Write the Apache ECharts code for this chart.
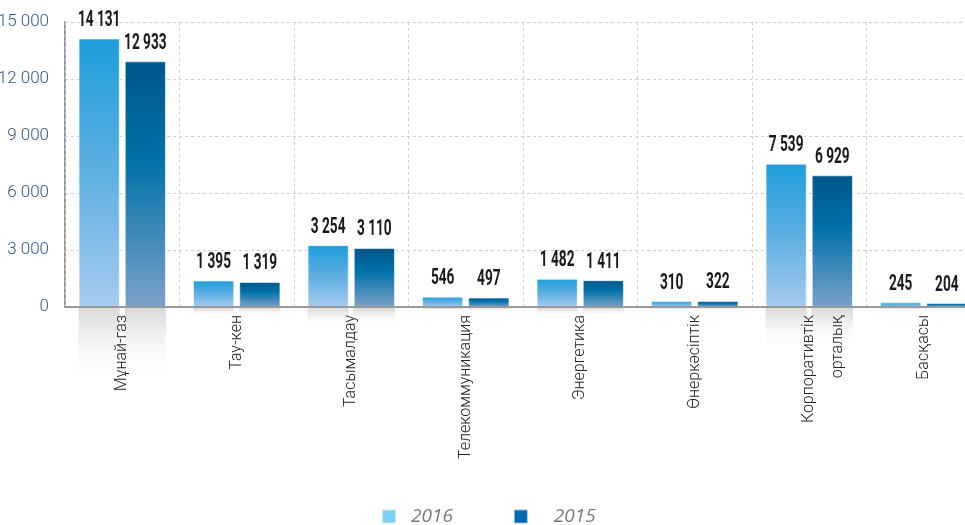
<!DOCTYPE html>
<html>
<head>
<meta charset="utf-8">
<script src="https://cdn.jsdelivr.net/npm/echarts@6/dist/echarts.min.js"></script>
<style>
html,body{margin:0;padding:0;background:#fff;}
#chart{width:965px;height:525px;}
</style>
</head>
<body>
<div id="chart"></div>
<script>
var categories = ['Мұнай-газ', 'Тау-кен', 'Тасымалдау', 'Телекоммуникация', 'Энергетика', 'Өнеркәсіптік', 'Корпоративтік\nорталық', 'Басқасы'];
var values2016 = [14131, 1395, 3254, 546, 1482, 310, 7539, 245];
var values2015 = [12933, 1319, 3110, 497, 1411, 322, 6929, 204];
var yTicks = [0, 3000, 6000, 9000, 12000, 15000];
var seriesNames = ['2016', '2015'];

var font = "Roboto,'Liberation Sans',sans-serif";
var BAR_W = 0.36, BAR_GAP = 0.12;

function fmt(v){
  var s = String(Math.round(v));
  return s.replace(/\B(?=(\d{3})+(?!\d))/g, ' ');
}

var grad2016 = new echarts.graphic.LinearGradient(0,0,0,1,[
  {offset:0,color:'#1c9edb'},{offset:0.5,color:'#5eafe2'},{offset:1,color:'#a5cbee'}]);
var grad2015 = new echarts.graphic.LinearGradient(0,0,0,1,[
  {offset:0,color:'#00578a'},{offset:0.4,color:'#0071a9'},{offset:1,color:'#7ba1c8'}]);
var reflGrad = new echarts.graphic.LinearGradient(0,0,0,1,[
  {offset:0,color:'rgba(210,210,210,0.85)'},{offset:1,color:'rgba(255,255,255,0)'}]);

function labelSeries(name, values, side){
  return {
    name: name + ' labels', type:'custom', xAxisIndex:0, yAxisIndex:0, z:5, silent:true,
    data: values.map(function(v,i){return [i, v];}),
    encode:{x:0, y:1},
    renderItem:function(params, api){
      var pt = api.coord([api.value(0), api.value(1)]);
      var band = api.size([1,0])[0];
      var off = band * BAR_W * (1 + BAR_GAP) / 2 * side;
      return {
        type:'text', x: pt[0] + off, y: pt[1] - 7, scaleX: 0.62,
        style:{text: fmt(api.value(1)), fontFamily:font, fontWeight:'bold', fontSize:22,
               fill:'#1a1a1a', align:'center', verticalAlign:'bottom'}
      };
    }
  };
}

var chart = echarts.init(document.getElementById('chart'));
chart.setOption({
  animation:false,
  grid:[
    {left:65, right:-16, top:22, height:285, outerBoundsMode:'none', containLabel:false},
    {left:65, right:-16, top:308, height:84, outerBoundsMode:'none', containLabel:false}
  ],
  legend:{
    left:381, top:507, padding:0,
    itemWidth:14, itemHeight:14, itemGap:60,
    textStyle:{fontFamily:"'Open Sans',sans-serif", fontStyle:'italic', fontSize:19, color:'#7a7a7a'},
    data:[
      {name:seriesNames[0], icon:'rect', itemStyle:{color:'#7fcff5'}, textStyle:{padding:[0,0,0,10]}},
      {name:seriesNames[1], icon:'rect', itemStyle:{color:'#0067b1'}, textStyle:{padding:[0,0,0,21]}}
    ]
  },
  xAxis:[
    {type:'category', gridIndex:0, data:categories, z:10,
     axisLine:{show:true, lineStyle:{color:'#999', width:2}},
     axisTick:{show:false},
     splitLine:{show:true, interval:0, lineStyle:{color:'#cfcfcf', type:[3,3], width:1}},
     axisLabel:{interval:0, rotate:90, margin:8, fontFamily:font, fontWeight:300, fontSize:16, color:'#222', lineHeight:29,
       formatter:function(v){return v.indexOf('\n')>=0 ? '\n' + v : v;}}
    },
    {type:'category', gridIndex:1, data:categories, show:false}
  ],
  yAxis:[
    {type:'value', gridIndex:0, min:0, max:15000, interval:3000,
     axisLine:{show:true, lineStyle:{color:'#999', width:2}},
     axisTick:{show:false},
     splitLine:{show:true, lineStyle:{color:'#cfcfcf', type:[3,3], width:1}},
     axisLabel:{margin:16, fontFamily:font, fontWeight:300, fontSize:17, color:'#2f5a88',
       formatter:function(v){return yTicks.indexOf(v)>=0 ? fmt(v) : '';}}
    },
    {type:'value', gridIndex:1, min:0, max:15000, inverse:true, show:false}
  ],
  series:[
    {name:'refl2016', type:'bar', xAxisIndex:1, yAxisIndex:1, data:values2016, barWidth:'36%', barGap:'12%', silent:true, z:1,
     itemStyle:{color:reflGrad}},
    {name:'refl2015', type:'bar', xAxisIndex:1, yAxisIndex:1, data:values2015, barWidth:'36%', barGap:'12%', silent:true, z:1,
     itemStyle:{color:reflGrad}},
    {name:seriesNames[0], type:'bar', data:values2016, barWidth:'36%', barGap:'12%',
     itemStyle:{color:grad2016, borderColor:'rgba(255,255,255,0.6)', borderWidth:1}},
    {name:seriesNames[1], type:'bar', data:values2015, barWidth:'36%', barGap:'12%',
     itemStyle:{color:grad2015, borderColor:'rgba(255,255,255,0.6)', borderWidth:1}},
    labelSeries(seriesNames[0], values2016, -1),
    labelSeries(seriesNames[1], values2015, 1)
  ]
});
</script>
</body>
</html>
